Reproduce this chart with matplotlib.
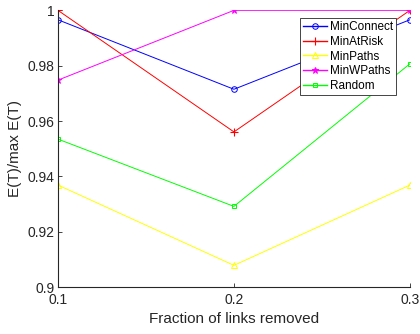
import matplotlib.pyplot as plt

plt.rcParams['font.family'] = ['Liberation Sans', 'DejaVu Sans']

fraction = [0.1, 0.2, 0.3]
min_connect = [0.9966, 0.9715, 0.9966]
min_at_risk = [1.0, 0.9561, 1.0]
min_paths = [0.9369, 0.9079, 0.9369]
min_wpaths = [0.9748, 1.0, 1.0]
random_sel = [0.9535, 0.9292, 0.9807]

fig = plt.figure(figsize=(4.2, 3.34), dpi=100)
ax = fig.add_axes([0.138, 0.14, 0.838, 0.829])

ax.plot(fraction, min_connect, color='#0000ff', marker='o', mfc='none', ms=4, lw=0.7, mew=0.7, label='MinConnect')
ax.plot(fraction, min_at_risk, color='#ff0000', marker='+', ms=6, lw=0.7, mew=0.8, label='MinAtRisk')
ax.plot(fraction, min_paths, color='#ffff00', marker='^', mfc='none', ms=4, lw=0.7, mew=0.7, label='MinPaths')
ax.plot(fraction, min_wpaths, color='#ff00ff', marker='*', ms=5, lw=0.7, mew=0.7, label='MinWPaths')
ax.plot(fraction, random_sel, color='#00ff00', marker='s', mfc='none', ms=3.5, lw=0.7, mew=0.7, label='Random')

ax.set_xlim(0.1, 0.3)
ax.set_ylim(0.9, 1.0)
ax.set_xticks([0.1, 0.2, 0.3])
ax.set_xticklabels(['0.1', '0.2', '0.3'])
ax.set_yticks([0.9, 0.92, 0.94, 0.96, 0.98, 1.0])
ax.set_yticklabels(['0.9', '0.92', '0.94', '0.96', '0.98', '1'])
ax.tick_params(direction='in', length=3, width=0.6, labelsize=10, colors='#262626')
ax.tick_params(axis='x', pad=4)
ax.tick_params(axis='y', pad=2.5)
ax.spines['top'].set_visible(False)
ax.spines['right'].set_visible(False)
for s in ('left', 'bottom'):
    ax.spines[s].set_linewidth(0.8)
    ax.spines[s].set_color('#262626')

ax.set_xlabel('Fraction of links removed', fontsize=11, color='#262626', labelpad=4)
ax.set_ylabel('E(T)/max E(T)', fontsize=11, color='#262626', labelpad=4)

leg = ax.legend(loc='upper right', bbox_to_anchor=(0.96, 0.971), fontsize=8.5, frameon=True,
                fancybox=False, framealpha=1, edgecolor='#262626', borderpad=0.25,
                labelspacing=0.22, handlelength=2.0, handletextpad=0.25, borderaxespad=0)
leg.get_frame().set_linewidth(0.6)
# slightly heavier legend handles so the thin colours stay visible
for h in leg.legend_handles:
    h.set_linewidth(1.0)

fig.savefig('out.png', dpi=100)
